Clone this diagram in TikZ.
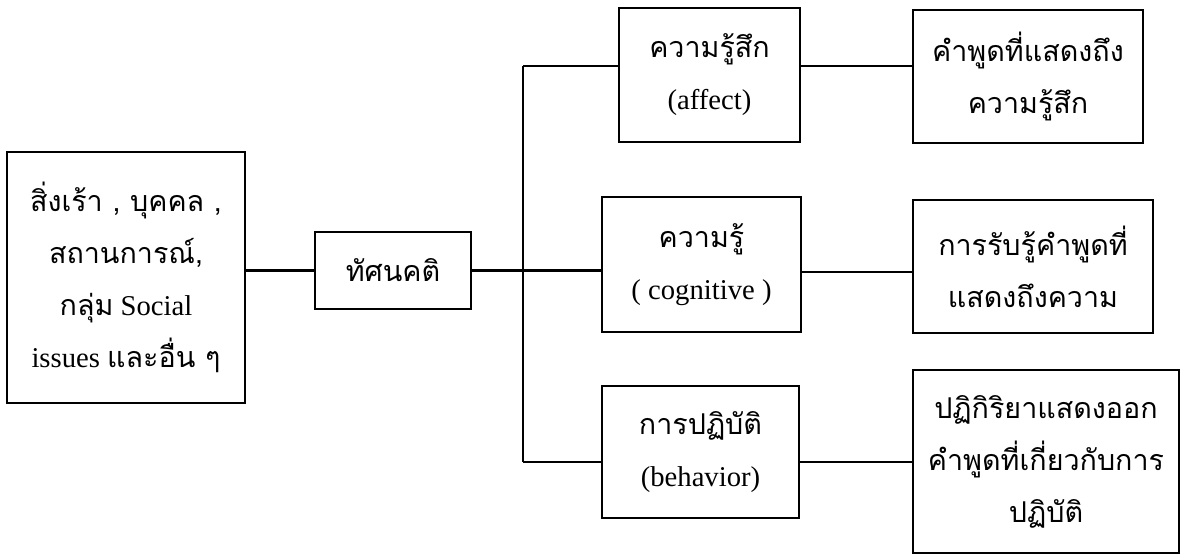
\documentclass[tikz,border=0pt]{standalone}
\usepackage{fontspec}
\setmainfont{Liberation Serif}
\newfontfamily\thaifont[Script=Thai]{Loma}
\newcommand{\thx}[1]{{\thaifont #1}}
\begin{document}
\begin{tikzpicture}[x=0.75pt,y=-0.75pt,
  box/.style={draw, line width=2pt, align=center, inner sep=0pt,
    font=\fontsize{21.5}{39}\selectfont},
  conn/.style={line width=2pt}]
\useasboundingbox (0,0) rectangle (1181,557);
% boxes (centres and sizes in px)
\node[box, minimum width=238*0.75pt, minimum height=251*0.75pt] (src) at (126,277.5)
  {\thx{สิ่งเร้า , บุคคล ,}\\ \thx{สถานการณ์,}\\ \thx{กลุ่ม} Social\\ issues \thx{และอื่น ๆ}};
\node[box, minimum width=156*0.75pt, minimum height=77*0.75pt] (att) at (393,270.5) {\thx{ทัศนคติ}};
\node[box, minimum width=181*0.75pt, minimum height=134*0.75pt] (aff) at (709.5,75) {\thx{ความรู้สึก}\\ (affect)};
\node[box, minimum width=199*0.75pt, minimum height=135*0.75pt] (cog) at (701.5,264.5) {\thx{ความรู้}\\ ( cognitive )};
\node[box, minimum width=197*0.75pt, minimum height=132*0.75pt] (beh) at (700.5,452) {\thx{การปฏิบัติ}\\ (behavior)};
\node[box, minimum width=230*0.75pt, minimum height=133*0.75pt] (r1) at (1028,76.5) {\thx{คำพูดที่แสดงถึง}\\ \thx{ความรู้สึก}};
\node[box, minimum width=240*0.75pt, minimum height=133*0.75pt] (r2) at (1033,266.5) {\thx{การรับรู้คำพูดที่}\\ \thx{แสดงถึงความ}};
\node[box, minimum width=266*0.75pt, minimum height=183*0.75pt] (r3) at (1046,461.5) {\thx{ปฏิกิริยาแสดงออก}\\ \thx{คำพูดที่เกี่ยวกับการ}\\ \thx{ปฏิบัติ}};
% junctions
\coordinate (jt) at (523,66);
\coordinate (jm) at (523,272);
\coordinate (jb) at (523,462);
% connectors
\draw[conn] (src.east |- att.east) -- (att.west);
\draw[conn] (att.east) -- (att.east -| cog.west);
\draw[conn] (jt) -- (jb);
\draw[conn] (jt) -- (jt -| aff.west);
\draw[conn] (jb) -- (jb -| beh.west);
\draw[conn] (aff.east |- jt) -- (r1.west |- jt);
\draw[conn] (cog.east |- jm) -- (r2.west |- jm);
\draw[conn] (beh.east |- jb) -- (r3.west |- jb);
\end{tikzpicture}
\end{document}
